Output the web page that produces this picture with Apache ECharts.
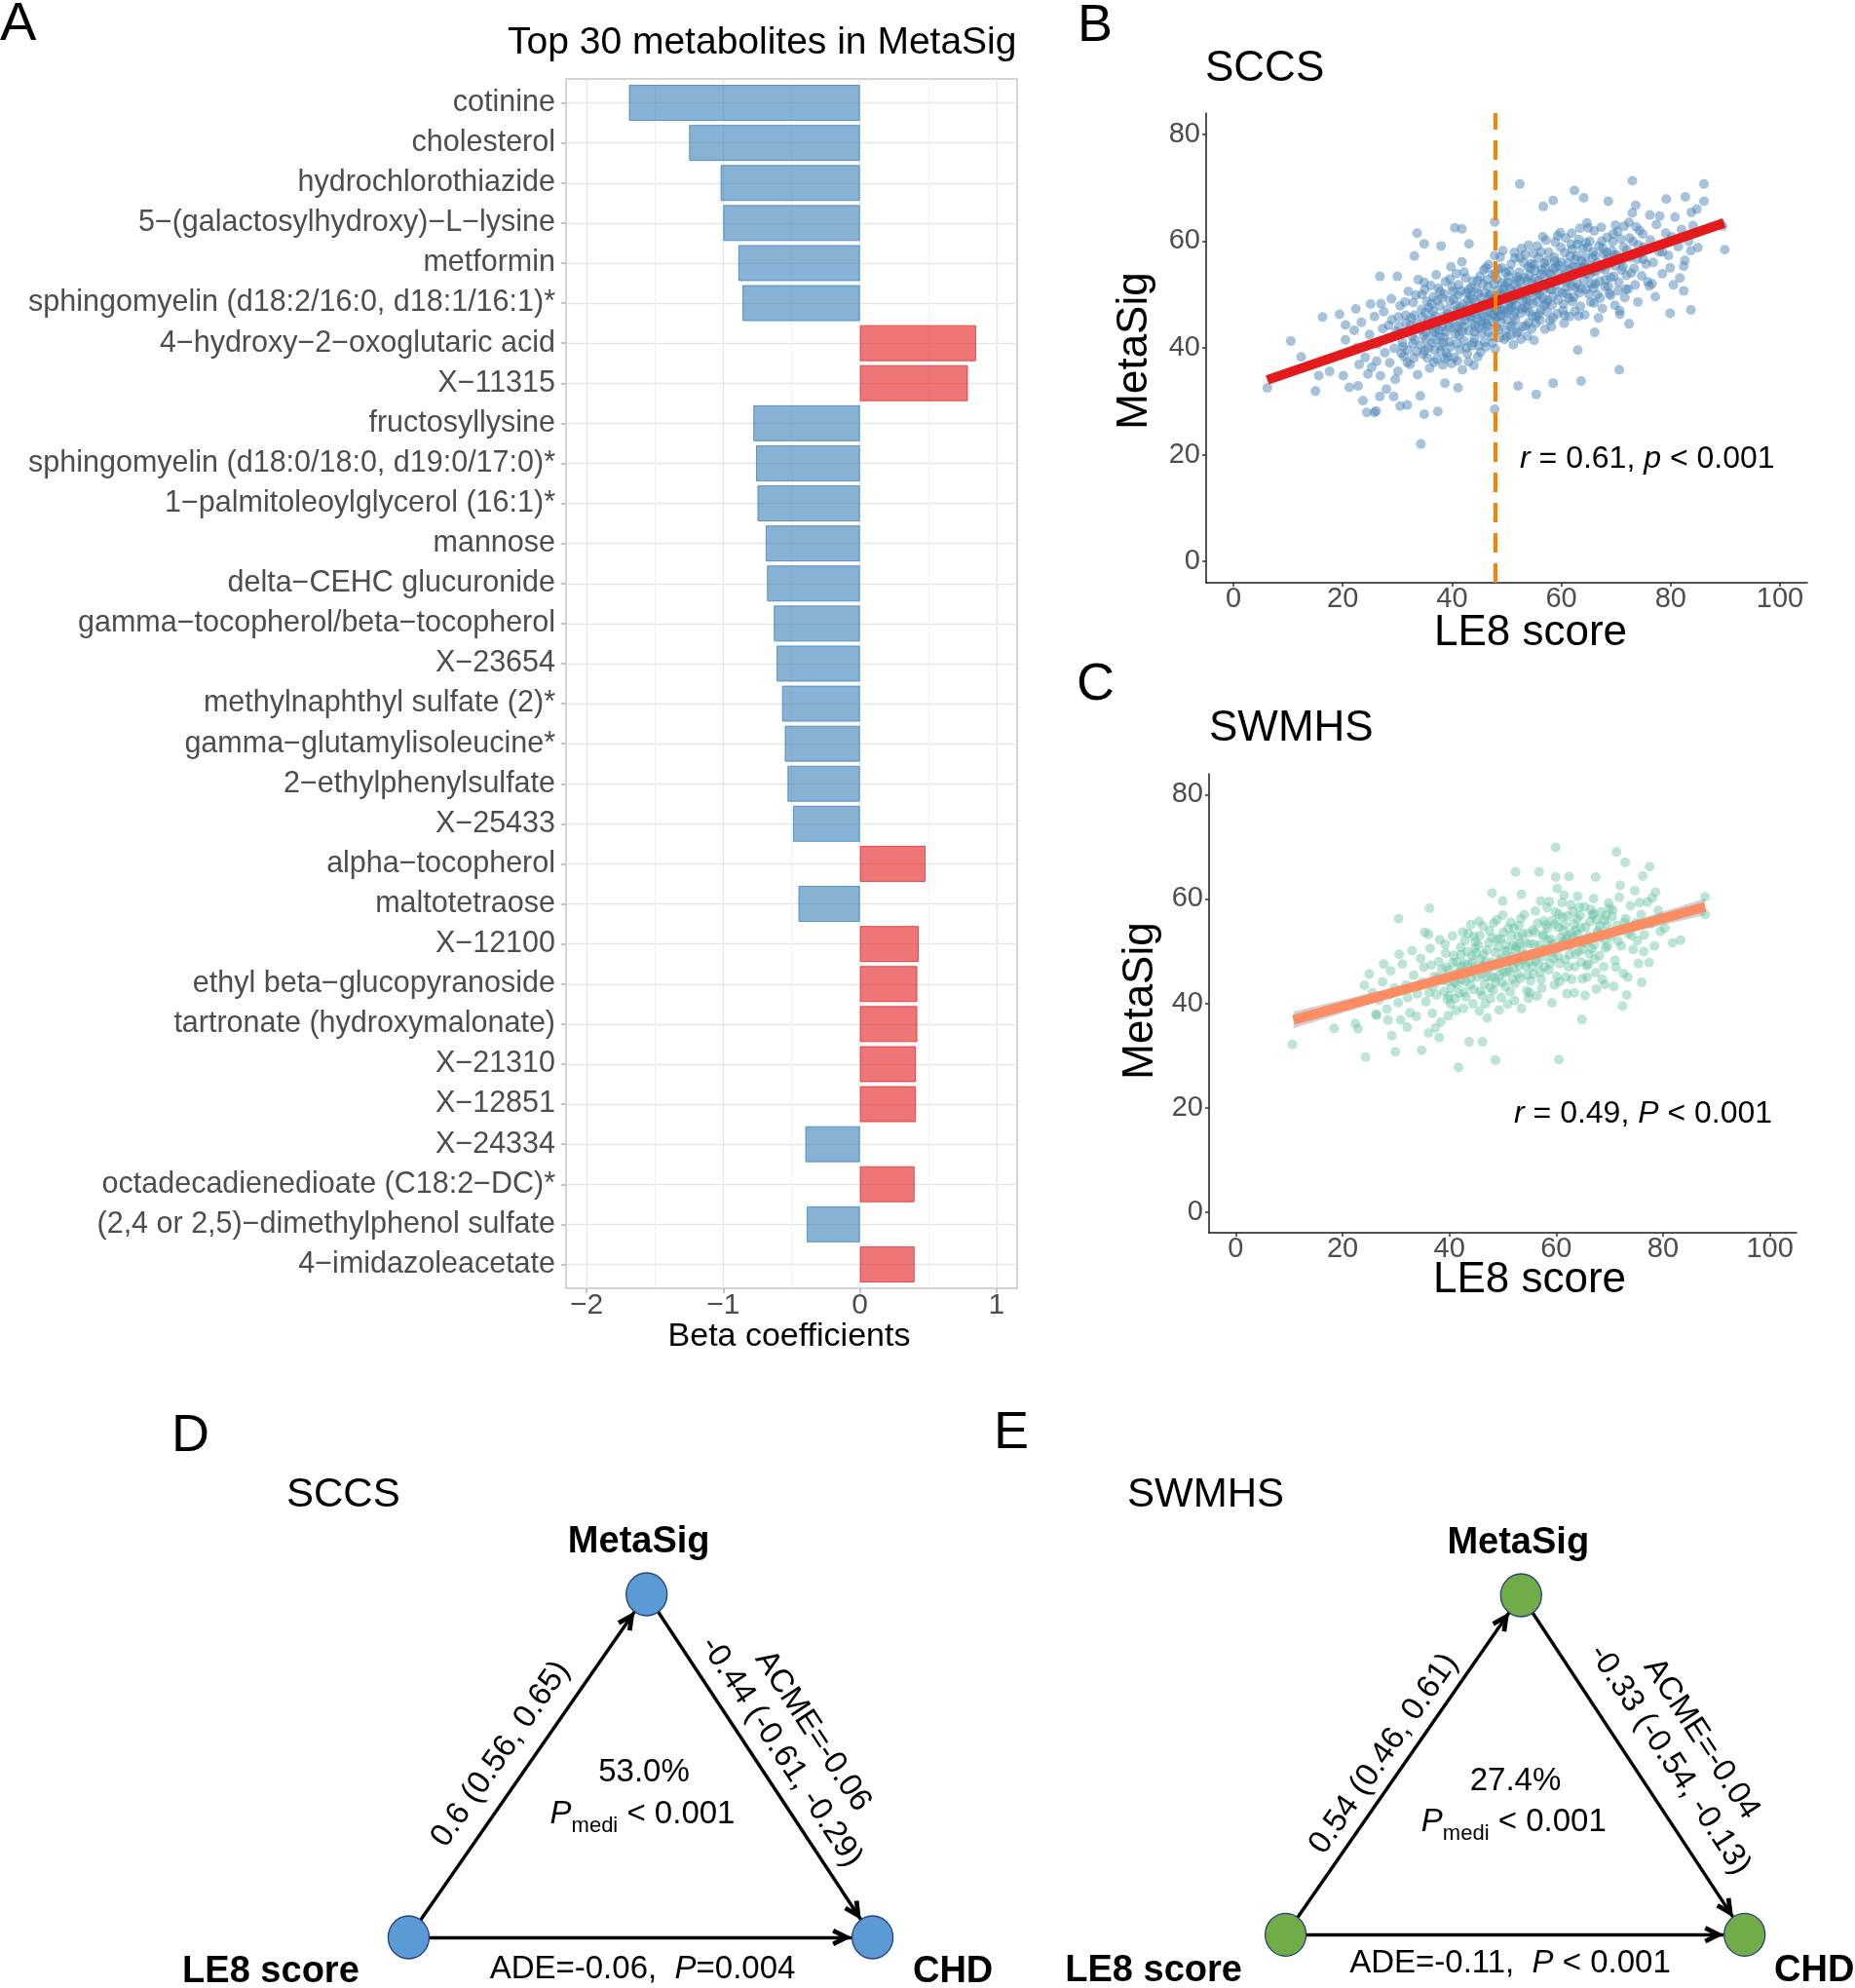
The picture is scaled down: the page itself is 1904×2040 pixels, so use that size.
<!DOCTYPE html>
<html><head><meta charset="utf-8">
<script src="https://cdn.jsdelivr.net/npm/echarts@6/dist/echarts.min.js"></script>
<style>html,body{margin:0;padding:0;background:#fff}#chart{width:1904px;height:2040px}</style>
</head><body><div id="chart"></div>
<script>
const FONT = '"Liberation Sans", Arial, Helvetica, sans-serif';
const M = '\u2212';

// ---------- Panel A ----------
const metabolites = [
  'cotinine','cholesterol','hydrochlorothiazide','5'+M+'(galactosylhydroxy)'+M+'L'+M+'lysine','metformin',
  'sphingomyelin (d18:2/16:0, d18:1/16:1)*','4'+M+'hydroxy'+M+'2'+M+'oxoglutaric acid','X'+M+'11315','fructosyllysine',
  'sphingomyelin (d18:0/18:0, d19:0/17:0)*','1'+M+'palmitoleoylglycerol (16:1)*','mannose','delta'+M+'CEHC glucuronide',
  'gamma'+M+'tocopherol/beta'+M+'tocopherol','X'+M+'23654','methylnaphthyl sulfate (2)*','gamma'+M+'glutamylisoleucine*',
  '2'+M+'ethylphenylsulfate','X'+M+'25433','alpha'+M+'tocopherol','maltotetraose','X'+M+'12100',
  'ethyl beta'+M+'glucopyranoside','tartronate (hydroxymalonate)','X'+M+'21310','X'+M+'12851','X'+M+'24334',
  'octadecadienedioate (C18:2'+M+'DC)*','(2,4 or 2,5)'+M+'dimethylphenol sulfate','4'+M+'imidazoleacetate'
];
const betaValues = [-1.69,-1.25,-1.02,-1.00,-0.89,-0.86,0.85,0.79,-0.78,-0.76,-0.75,-0.69,-0.68,-0.63,-0.61,
  -0.57,-0.55,-0.53,-0.49,0.48,-0.45,0.43,0.42,0.42,0.41,0.41,-0.40,0.40,-0.39,0.40];
const betaTicks = [-2,-1,0,1];
const betaGridMajor = [-2,-1,0,1];
const betaGridMinor = [-1.5,-0.5,0.5];

// ---------- Panel B (SCCS) ----------
const sccsPoints = [
 [6.2,32.5],[10.5,41.3],[12.4,38.3],[15.0,31.9],[15.6,34.8],[16.3,45.8],[17.6,35.6],[19.4,46.3],[20.5,44.3],[20.5,41.5],[20.1,34.8],[21.2,32.6],[22.4,47.3],[22.8,32.9],[23.7,30.1],[24.4,27.9],[25.8,27.9],[26.1,28.2],[26.8,53.4],[27.0,48.3],[26.8,30.9],[28.0,32.3],[29.3,30.9],[30.0,53.4],[30.5,29.1],[31.8,29.3],[33.1,57.2],[33.6,61.5],[34.2,31.0],[34.3,22.0],[34.9,27.6],[34.9,59.5],[37.4,28.1],[38.0,59.1],[38.7,33.4],[40.5,62.5],[41.1,32.5],[41.8,62.3],[43.1,59.5],[47.8,28.5],[47.8,63.6],[52.4,70.7],[52.1,32.9],[55.4,31.3],[56.7,66.5],[58.5,67.6],[58.5,33.4],[62.4,69.5],[63.0,39.6],[63.6,33.8],[64.1,68.1],[66.1,42.9],[68.6,67.5],[70.6,35.9],[73.0,71.3],[73.6,66.7],[76.2,64.9],[79.2,67.9],[79.9,46.5],[82.7,68.3],[82.4,50.7],[83.7,47.1],[83.7,58.2],[82.4,55.3],[84.8,66.0],[86.1,70.7],[86.1,67.5],[89.9,58.4],[89.5,62.8],[78.5,58.0],[76.1,51.6],[72.4,44.5],[70.7,46.3],
 [22.6,40.1],[23.4,44.8],[24.1,38.2],[24.9,42.5],[25.3,36.4],[25.8,45.9],[26.4,40.7],[26.9,34.8],[27.3,43.6],[27.7,39.1],[23.0,36.9],[25.1,48.2],[26.2,37.5],[27.5,46.8],[22.1,43.3],[24.6,35.1],
 [28.2,41.8],[28.6,37.2],[29.0,45.3],[29.4,39.9],[29.8,43.1],[30.1,35.6],[30.5,47.9],[30.9,41.0],[31.2,38.4],[31.6,44.7],[32.0,50.6],[32.3,36.9],[32.7,42.2],[33.1,46.1],[33.5,39.3],[33.8,52.8],[28.9,49.2],[29.6,34.1],[30.3,44.0],[31.0,40.2],[31.8,37.3],[32.5,45.6],[33.2,41.5],[33.7,35.0],[28.4,44.2],[30.7,39.0],[32.9,48.5],
 [34.1,43.4],[34.4,47.2],[34.7,38.8],[35.0,50.9],[35.3,41.7],[35.6,45.0],[35.9,36.2],[36.2,48.3],[36.5,42.9],[36.8,39.6],[37.1,53.7],[37.4,44.5],[37.7,47.8],[38.0,40.3],[38.3,36.8],[38.6,50.1],[38.9,43.0],[39.2,46.4],[39.5,41.2],[39.8,55.2],[34.3,40.5],[34.9,52.3],[35.5,38.1],[36.0,44.2],[36.6,49.6],[37.2,37.9],[37.8,42.1],[38.4,45.9],[39.0,39.0],[39.6,48.8],[34.6,45.7],[35.2,43.0],[36.3,40.9],[36.9,46.0],[37.5,51.2],[38.1,44.0],[38.7,38.0],[39.3,43.8],[39.9,37.1],[35.8,47.5],[37.0,41.5],[38.8,52.4],
 [40.1,45.3],[40.3,49.1],[40.6,42.6],[40.9,47.0],[41.2,51.8],[41.4,39.7],[41.7,44.8],[42.0,48.2],[42.2,41.3],[42.5,53.1],[42.8,46.0],[43.1,43.2],[43.3,49.7],[43.6,40.4],[43.9,47.4],[44.2,44.1],[44.4,51.0],[44.7,38.3],[45.0,46.9],[45.3,49.4],[45.5,42.7],[45.8,54.6],[40.4,38.2],[40.8,53.9],[41.0,44.0],[41.5,47.6],[41.9,35.9],[42.3,45.2],[42.7,50.3],[43.0,37.4],[43.4,45.8],[43.8,52.5],[44.1,41.8],[44.5,48.5],[44.9,43.6],[45.2,39.2],[45.7,47.7],[40.2,50.6],[40.7,46.1],[41.3,42.4],[41.8,56.1],[42.1,43.9],[42.6,40.0],[43.2,47.9],[43.7,44.6],[44.3,46.3],[44.8,50.2],[45.4,45.1],[45.9,41.1],[41.1,49.9],[42.9,48.9],[44.0,36.7],[45.6,52.0],
 [46.1,48.4],[46.3,44.5],[46.6,51.5],[46.9,46.7],[47.2,42.1],[47.4,53.8],[47.7,49.2],[48.0,45.6],[48.3,50.8],[48.5,43.4],[48.8,47.3],[49.1,55.0],[49.4,49.9],[49.6,41.6],[49.9,46.5],[50.2,52.3],[50.4,48.1],[50.7,44.0],[51.0,50.5],[51.3,46.0],[51.5,56.8],[51.8,42.8],[46.2,40.2],[46.7,55.6],[47.0,50.0],[47.5,46.2],[47.9,39.8],[48.2,52.9],[48.6,48.0],[49.0,44.8],[49.3,58.2],[49.7,51.7],[50.0,45.3],[50.5,54.4],[50.9,47.6],[51.2,40.6],[51.6,49.4],[51.9,53.3],[46.4,46.0],[46.8,49.8],[47.3,44.9],[47.8,57.3],[48.4,45.9],[48.9,50.2],[49.5,47.0],[50.1,49.5],[50.6,51.1],[51.1,44.3],[51.7,47.9],[46.5,52.8],[47.6,48.1],[48.7,41.9],[49.8,54.1],[50.8,42.4],[51.4,51.9],
 [52.1,49.8],[52.3,54.2],[52.6,46.5],[52.9,51.3],[53.2,47.6],[53.4,57.5],[53.7,52.6],[54.0,44.7],[54.3,50.4],[54.5,55.8],[54.8,48.3],[55.1,53.0],[55.4,45.8],[55.6,59.1],[55.9,51.2],[56.2,47.1],[56.4,54.7],[56.7,49.3],[57.0,43.5],[57.3,56.3],[57.6,52.0],[52.2,43.0],[52.7,58.6],[53.0,50.0],[53.5,44.1],[53.9,55.1],[54.2,48.9],[54.6,52.1],[55.0,41.4],[55.3,50.7],[55.8,56.9],[56.1,45.2],[56.5,51.8],[56.9,47.9],[57.2,60.2],[57.5,49.0],[57.8,54.0],[52.5,52.7],[53.1,56.0],[53.6,49.1],[54.1,53.6],[54.7,46.0],[55.2,54.5],[55.7,48.7],[56.3,58.0],[56.8,53.3],[57.4,46.7],[57.9,51.0],[52.8,47.3],[53.8,42.2],[54.9,57.7],[56.0,50.0],[57.1,55.0],
 [58.1,53.8],[58.4,49.6],[58.7,57.0],[59.0,51.9],[59.2,46.4],[59.5,55.5],[59.8,61.6],[60.1,53.0],[60.4,48.2],[60.6,57.8],[60.9,51.4],[61.2,55.9],[61.5,45.9],[61.8,59.4],[62.1,53.5],[62.3,49.5],[62.6,56.6],[62.9,52.0],[63.2,60.3],[63.5,47.8],[63.8,55.0],[58.2,44.0],[58.9,59.8],[59.4,49.0],[60.0,56.0],[60.5,44.6],[61.0,50.1],[61.6,53.1],[62.0,58.5],[62.5,46.9],[63.0,54.2],[63.6,51.1],[58.6,54.9],[59.7,52.7],[60.8,60.6],[61.9,51.6],[62.8,57.2],[63.9,58.6],[58.3,48.0],[60.2,50.3],[62.2,55.2],[63.4,62.4],
 [64.2,55.7],[64.5,51.0],[64.8,58.8],[65.1,53.6],[65.4,48.6],[65.7,56.9],[66.0,61.9],[66.3,54.3],[66.6,50.0],[66.9,59.1],[67.2,55.0],[67.5,47.4],[67.8,57.6],[68.1,52.8],[68.4,60.7],[68.7,55.6],[69.0,49.8],[69.3,58.2],[69.6,53.4],[69.9,63.0],[64.3,46.2],[64.9,62.5],[65.5,52.0],[66.2,57.3],[66.8,45.6],[67.4,60.0],[68.0,54.6],[68.6,51.5],[69.2,56.0],[69.8,48.0],[64.6,53.9],[65.9,51.2],[67.0,52.5],[68.3,57.9],[69.5,61.3],
 [70.2,57.4],[70.5,52.3],[70.9,60.4],[71.3,55.2],[71.6,49.4],[72.0,58.3],[72.4,63.5],[72.8,54.0],[73.1,59.9],[73.5,51.8],[73.9,56.6],[74.3,62.0],[74.7,53.5],[75.1,58.9],[75.5,55.7],[70.7,47.0],[71.5,62.8],[72.2,51.0],[73.0,65.3],[74.0,48.6],[74.9,61.3],[75.8,52.4],[71.0,54.6],[72.6,56.9],[74.5,57.7],
 [76.3,60.2],[76.8,56.0],[77.4,63.1],[77.9,58.0],[78.5,53.9],[79.1,61.5],[79.6,57.3],[80.2,60.8],[80.8,64.5],[81.4,59.0],[82.0,62.2],[82.6,56.4],[83.3,60.0],[84.1,62.9],[85.0,58.8],[76.6,52.0],[78.0,64.7],[79.9,55.0],[81.7,53.1],[83.8,65.4],[77.2,49.6],[80.5,51.8],
 [30.2,45.8],[30.8,42.7],[31.4,48.6],[31.9,39.6],[32.4,44.3],[32.8,40.8],[33.4,49.9],[33.9,43.9],[34.5,50.0],[34.8,42.3],[35.1,46.6],[35.7,40.0],[36.1,51.7],[36.4,45.4],[36.7,37.3],[37.3,48.9],[37.6,43.3],[37.9,39.4],[38.2,49.4],[38.5,42.0],[39.1,47.2],[39.4,44.6],[39.7,40.2],[40.0,51.4],[40.5,43.7],[40.9,40.8],[41.4,46.3],[41.6,50.7],[42.4,47.1],[42.8,38.9],[43.5,51.3],[43.9,41.0],[44.6,45.4],[45.1,53.4],[45.6,44.4],[46.0,50.3],[46.6,42.9],[47.1,47.6],[47.7,51.9],[48.1,43.8],[48.5,54.8],[48.9,46.1],[49.2,52.2],[49.8,43.3],[50.3,47.1],[50.8,55.7],[51.2,49.0],[51.6,45.2],[52.0,51.0],[52.4,56.9],[52.9,44.0],[53.3,53.1],[53.7,47.4],[54.1,50.9],[54.6,43.6],[55.0,55.6],[55.5,49.9],[55.9,46.3],[56.3,53.8],[56.8,50.9],[57.3,48.4],[57.7,57.9],[58.0,52.4],[58.5,45.6],[59.0,55.2],[59.5,50.5],[59.9,58.8],[60.3,47.0],[60.7,54.4],[61.1,52.3],[61.6,57.2],[62.0,48.7],[62.4,54.0],[62.9,59.4],[63.3,50.3],[63.7,56.3],[64.1,52.7],[64.5,59.7],[65.0,50.1],[65.4,55.4],[65.8,58.0],[66.2,52.0],[66.6,55.9],[67.1,49.3],[67.6,58.6],[68.0,51.4],[68.5,56.8],[69.0,53.2],[69.4,59.9],[69.9,55.4],[70.4,50.7],[70.9,56.3],[71.4,58.9],[71.9,53.6],[72.5,60.6],[73.3,54.9],[74.1,59.3],[75.0,56.6],
 [33.0,38.1],[35.4,48.7],[36.9,43.0],[38.4,40.9],[39.6,52.9],[41.0,37.6],[42.2,54.2],[43.7,49.2],[44.9,40.4],[46.2,55.0],[47.4,40.9],[48.8,57.0],[50.0,42.1],[51.4,57.9],[52.6,41.6],[54.0,59.2],[55.3,44.6],[56.6,60.8],[57.9,45.1],[59.3,61.0],[60.6,46.1],[61.9,61.5],[63.2,46.0],[64.7,63.4],[66.0,48.4],[67.3,62.6],[68.8,50.2],[70.3,61.8],[71.8,51.0],[73.7,62.7],
 [31.5,46.1],[33.6,44.5],[35.0,39.5],[36.5,46.9],[37.8,50.6],[39.2,38.4],[40.6,48.0],[41.9,43.0],[43.3,46.6],[44.7,52.6],[45.8,46.0],[47.2,49.0],[48.2,47.1],[49.4,51.0],[50.6,48.6],[51.8,52.7],[53.0,48.8],[54.4,54.9],[55.7,52.5],[57.0,51.6],[58.8,56.3],[60.0,52.8],[61.4,49.3],[62.7,55.1],[64.4,57.0],[65.9,54.4],[67.7,55.3],[69.7,57.4],
 [43.0,50.9],[44.1,43.0],[45.3,47.9],[46.5,44.1],[47.9,53.9],[49.0,49.1],[50.3,53.4],[51.5,46.8],[52.7,50.0],[54.2,46.7],[55.6,51.0],[56.9,55.9],[58.2,50.9],[59.6,53.9],[61.2,54.7],[62.6,51.3],[64.0,55.0],[65.2,60.0]
];
const sccsFitX = [6.2, 89.8];
const sccsFitY = [34.0, 63.4];
const sccsCutoff = 47.9;

// ---------- Panel C (SWMHS) ----------
const swmhsPoints = [
 [10.6,32.1],[18.4,35.2],[22.4,36.1],[22.9,35.1],[24.3,29.7],[25.0,45.6],[24.1,43.4],[26.4,37.7],[27.7,47.5],[28.5,36.8],[29.2,33.8],[29.9,30.7],[30.5,56.2],[30.6,49.4],[32.1,35.4],[34.8,31.0],[36.1,34.3],[36.3,58.2],[36.1,53.2],[38.1,33.4],[41.7,27.7],[43.7,32.6],[46.2,32.6],[48.6,29.1],[48.0,61.1],[50.0,59.6],[52.4,65.2],[53.5,60.9],[56.8,65.2],[59.9,69.9],[59.9,64.2],[60.5,29.2],[62.4,64.3],[67.4,64.2],[64.8,36.9],[71.3,69.0],[72.9,67.0],[72.4,39.5],[76.2,64.4],[77.5,66.2],[78.6,61.3],[77.4,47.8],[76.4,49.9],[81.8,51.6],[83.3,52.1],[87.9,60.4],[87.9,57.0],[80.3,54.4],[73.4,45.0],
 [25.6,42.0],[26.8,40.6],[27.5,44.1],[28.3,38.9],[29.0,46.2],[29.7,42.9],[30.4,40.1],[31.2,47.5],[31.9,43.5],[32.6,38.2],[33.3,45.4],[34.0,41.8],[34.6,48.6],[30.9,36.8],[32.2,41.1],[33.8,37.5],[28.8,41.7],[34.9,44.0],[26.2,37.9],[33.0,50.1],
 [35.2,46.9],[35.6,40.3],[36.0,43.8],[36.4,50.5],[36.8,38.1],[37.2,45.2],[37.6,41.6],[38.0,48.0],[38.4,36.4],[38.8,44.4],[39.2,51.3],[39.6,40.8],[40.0,46.3],[40.4,43.0],[40.8,49.2],[41.2,38.6],[41.6,45.7],[35.4,53.6],[36.6,47.3],[37.4,35.3],[38.2,52.2],[39.0,42.3],[39.8,37.6],[40.6,52.9],[41.4,47.9],[41.8,41.9],[36.2,42.0],[37.9,44.9],[39.4,46.9],[40.2,39.9],[41.0,44.0],
 [42.1,50.7],[42.4,44.6],[42.8,47.6],[43.1,41.2],[43.5,53.4],[43.8,46.1],[44.2,49.0],[44.5,42.6],[44.9,51.8],[45.2,45.0],[45.6,38.5],[45.9,48.4],[46.3,54.8],[46.6,43.7],[47.0,50.2],[47.3,46.6],[47.7,40.9],[48.0,52.5],[48.4,47.3],[48.7,44.0],[42.6,39.0],[43.3,49.9],[44.0,55.1],[44.7,47.0],[45.4,51.2],[46.1,41.5],[46.8,47.9],[47.5,53.9],[48.2,42.5],[48.9,56.0],[42.9,52.0],[43.9,43.5],[45.0,49.6],[46.0,45.6],[47.1,37.2],[48.6,49.7],[44.4,39.9],[47.8,45.1],[45.7,53.0],[42.3,47.0],
 [49.1,50.8],[49.4,45.4],[49.8,48.6],[50.1,53.6],[50.5,43.2],[50.8,49.9],[51.2,46.3],[51.5,55.5],[51.9,51.1],[52.2,40.5],[52.6,48.0],[52.9,52.8],[53.3,44.8],[53.6,50.0],[54.0,57.0],[54.3,47.1],[54.7,53.4],[55.0,42.0],[55.4,49.5],[55.7,45.6],[49.3,38.7],[50.0,56.9],[50.7,46.0],[51.4,42.2],[52.1,54.4],[52.8,45.5],[53.5,39.0],[54.2,51.6],[54.9,47.9],[55.6,54.0],[49.6,52.4],[50.9,39.8],[52.4,50.3],[53.8,48.3],[55.2,44.3],[49.9,44.0],[51.7,48.9],[53.0,54.9],[54.5,42.4],[55.9,51.3],
 [56.2,48.2],[56.5,55.3],[56.9,51.1],[57.2,44.6],[57.6,53.2],[57.9,49.0],[58.3,58.3],[58.6,46.4],[59.0,52.3],[59.3,55.9],[59.7,43.5],[60.0,50.5],[60.4,54.6],[60.7,47.6],[61.1,59.3],[61.4,51.8],[61.8,45.0],[62.1,56.7],[62.5,49.3],[62.8,53.5],[56.4,41.4],[57.1,59.6],[57.8,46.9],[58.5,52.0],[59.2,40.1],[59.9,57.5],[60.6,44.1],[61.3,53.9],[62.0,41.8],[62.7,58.9],[56.7,47.7],[58.1,55.0],[59.5,48.6],[60.9,50.9],[62.3,47.0],[57.4,50.2],[60.2,62.0],[61.6,55.0],
 [63.2,52.6],[63.5,47.0],[63.9,56.2],[64.2,49.9],[64.6,54.5],[64.9,44.7],[65.3,58.5],[65.6,51.6],[66.0,47.5],[66.3,55.7],[66.7,50.4],[67.0,60.1],[67.4,45.9],[67.7,53.5],[68.1,49.1],[68.4,57.5],[68.8,52.3],[69.1,43.6],[69.5,55.0],[69.8,59.2],[63.4,42.0],[64.0,60.5],[64.7,47.9],[65.4,41.5],[66.1,52.9],[66.8,56.9],[67.5,42.7],[68.2,54.8],[68.9,47.0],[69.6,51.0],[63.7,54.0],[65.8,45.0],[67.2,48.5],[69.3,56.8],
 [70.2,52.7],[70.6,57.9],[71.0,48.2],[71.4,54.9],[71.8,60.3],[72.2,51.0],[72.6,45.7],[73.0,56.2],[73.5,53.3],[73.9,58.7],[74.4,50.3],[74.9,55.4],[75.4,47.6],[75.9,57.0],[76.5,53.1],[77.1,59.4],[77.7,55.3],[78.4,51.0],[79.1,57.8],[70.8,43.2],[72.0,62.6],[73.2,41.6],[74.7,61.6],[76.0,44.0],[78.0,60.2],[79.5,53.8],[71.6,51.9],[75.2,52.0],
 [37.0,43.2],[38.6,46.5],[39.9,41.4],[40.7,47.8],[41.5,43.6],[42.2,49.3],[42.7,42.1],[43.4,47.4],[44.1,44.9],[44.8,50.6],[45.3,46.4],[45.8,42.3],[46.4,49.4],[46.9,45.1],[47.4,51.6],[47.9,47.9],[48.5,44.9],[49.0,52.3],[49.5,48.3],[50.2,45.9],[50.6,51.3],[51.1,48.1],[51.6,52.9],[52.0,46.8],[52.5,50.9],[53.1,47.2],[53.7,53.3],[54.1,49.3],[54.6,45.4],[55.1,51.4],[55.5,47.0],[56.0,53.6],[56.6,49.5],[57.0,46.0],[57.5,52.8],[58.0,50.4],[58.4,54.4],[58.9,47.6],[59.4,51.3],[59.8,55.2],[60.3,49.1],[60.8,52.5],[61.2,56.5],[61.7,48.4],[62.2,53.0],[62.6,51.0],[63.1,57.6],[63.6,49.4],[64.1,53.2],[64.5,56.8],[65.0,50.3],[65.5,54.6],[66.0,52.0],[66.5,58.0],[67.1,51.2],[67.6,56.0],[68.3,52.7],[69.0,55.9],[69.7,53.1],[70.5,56.6],
 [39.3,49.6],[41.1,40.9],[42.5,53.7],[44.3,47.9],[45.5,55.7],[46.7,39.9],[48.3,55.4],[49.7,41.1],[51.0,54.4],[52.3,43.8],[53.4,56.2],[54.8,41.0],[56.1,57.7],[57.3,42.9],[58.7,59.5],[60.1,45.2],[61.5,60.7],[62.9,44.6],[64.3,58.4],[65.7,47.2],[67.0,57.2],[68.6,44.6],[70.0,58.2],[71.2,46.9],
 [43.0,44.2],[44.6,52.8],[46.2,47.2],[47.6,43.0],[49.2,47.0],[50.4,50.0],[51.8,44.6],[53.2,51.5],[54.4,48.9],[55.8,49.2],[57.7,55.8],[59.1,49.8],[60.5,57.0],[61.9,52.4],[63.3,55.2],[64.8,51.6],[66.2,49.5],[67.8,53.9],[69.2,50.6],[72.8,55.5],[74.1,53.0],[75.6,59.3],[39.7,44.2],[41.9,46.1]
];
const swmhsFitX = [10.8, 87.9];
const swmhsFitY = [36.8, 58.5];
const swmhsCiX = [10.8, 30, 50, 70, 87.9];
const swmhsCiLow = [35.2, 41.3, 47.3, 52.6, 56.9];
const swmhsCiHigh = [38.4, 43.1, 48.3, 54.4, 60.1];
const le8Ticks = [0, 20, 40, 60, 80, 100];
const metaSigTicks = [0, 20, 40, 60, 80];

// ---------- Panels D/E (mediation) ----------
const medNodes = ['LE8 score', 'MetaSig', 'CHD'];
const medNodeX = [0, 0.513, 1];
const medNodeY = [0, 1, 0];
const medLinks = [['LE8 score', 'MetaSig'], ['MetaSig', 'CHD'], ['LE8 score', 'CHD']];
const sccsMed = { pathA: '0.6 (0.56, 0.65)', acme: 'ACME=-0.06', pathB: '-0.44 (-0.61, -0.29)', ade: 'ADE=-0.06,  ', adeP: '=0.004', prop: '53.0%', pmedi: ' < 0.001' };
const swmhsMed = { pathA: '0.54 (0.46, 0.61)', acme: 'ACME=-0.04', pathB: '-0.33 (-0.54, -0.13)', ade: 'ADE=-0.11,  ', adeP: ' < 0.001', prop: '27.4%', pmedi: ' < 0.001' };

// ---------- helpers ----------
// open chevron arrowhead; invisible slivers make the bounding box square and centred on the tip
const CHEVRON = 'path://M8,-17.8L8.01,-17.8L8,-17.79Z M-9.8,0L-9.79,0L-9.8,0.01Z M25.8,0L25.79,0L25.8,0.01Z ' +
  'M8,0L16,16L12.2,17.9L8,9.5L3.8,17.9L0,16Z';
function T(text, x, y, size, o) {
  o = o || {};
  const st = { text: text, fontSize: size, fontFamily: FONT, fontWeight: o.bold ? 'bold' : 'normal',
    fontStyle: o.italic ? 'italic' : 'normal', fill: o.color || '#000', align: o.align || 'left', verticalAlign: 'middle' };
  if (o.lh) st.lineHeight = o.lh;
  if (o.rich) st.rich = o.rich;
  return { type: 'text', x: x, y: y, rotation: o.rot || 0, silent: true, z: 100, style: st };
}
function richBase(size) {
  return {
    n: { fontSize: size, fontFamily: FONT, color: '#000' },
    i: { fontSize: size, fontFamily: FONT, fontStyle: 'italic', color: '#000' }
  };
}
function pmediRich() {
  return {
    i: { fontSize: 33, fontFamily: FONT, fontStyle: 'italic', verticalAlign: 'top', lineHeight: 33, color: '#000' },
    s: { fontSize: 22, fontFamily: FONT, verticalAlign: 'top', lineHeight: 22, padding: [17, 0, 0, 0], color: '#000' },
    n: { fontSize: 33, fontFamily: FONT, verticalAlign: 'top', lineHeight: 33, color: '#000' }
  };
}
function valAxisXY(grid, min, max, ticks, isX) {
  return {
    gridIndex: grid, type: 'value', min: min, max: max,
    axisLine: { show: true, onZero: false, lineStyle: { color: '#1a1a1a', width: 1.5 } },
    axisTick: { show: true, customValues: ticks, length: 4, lineStyle: { color: '#333', width: 1.5 } },
    axisLabel: { customValues: ticks, fontSize: 29, color: '#4d4d4d', fontFamily: FONT, margin: isX ? 2 : 6 },
    splitLine: { show: false }
  };
}
function medGraph(grid, color, metaOff, lePos, chdPos) {
  return {
    type: 'graph', layout: 'none', coordinateSystem: 'cartesian2d', xAxisIndex: grid, yAxisIndex: grid,
    symbol: 'circle', symbolSize: [42, 44], silent: true, roam: false,
    itemStyle: { color: color, borderColor: '#24407a', borderWidth: 1.3, opacity: 1 },
    edgeSymbol: ['none', CHEVRON], edgeSymbolSize: 40,
    lineStyle: { color: '#000', width: 3.4, opacity: 1, curveness: 0 },
    emphasis: { disabled: true },
    label: { show: true, color: '#000', fontSize: 38, fontWeight: 'bold', fontFamily: FONT, formatter: '{b}' },
    data: medNodes.map(function (n, i) {
      let lab;
      if (n === 'MetaSig') lab = { position: 'top', distance: 12, offset: [metaOff, 0] };
      else if (n === 'LE8 score') lab = { position: lePos, align: 'right', verticalAlign: 'middle' };
      else lab = { position: chdPos, align: 'left', verticalAlign: 'middle' };
      return { name: n, value: [medNodeX[i], medNodeY[i]], label: lab };
    }),
    links: medLinks.map(function (l) { return { source: l[0], target: l[1] }; })
  };
}

const blueBar = 'rgba(55,126,184,0.6)', redBar = 'rgba(228,26,28,0.6)';

const option = {
  animation: false,
  backgroundColor: '#ffffff',
  textStyle: { fontFamily: FONT },
  grid: [
    { left: 581, top: 85, width: 463, height: 1233 },
    { left: 581, top: 81, width: 463, height: 1241, show: true, borderColor: '#c6c6c6', borderWidth: 1.5, backgroundColor: 'transparent' },
    { left: 1238, top: 116, width: 617, height: 482 },
    { left: 1241, top: 794, width: 603, height: 471 },
    { left: 419.4, top: 1636, width: 476.2, height: 352 },
    { left: 1319.6, top: 1637, width: 471.1, height: 348.3 }
  ],
  xAxis: [
    { gridIndex: 0, type: 'value', min: -2.15, max: 1.15, show: false },
    { gridIndex: 1, type: 'value', min: -2.15, max: 1.15,
      axisLine: { show: false, onZero: false },
      axisTick: { show: true, customValues: betaTicks, length: 5, lineStyle: { color: '#b3b3b3', width: 1.5 } },
      axisLabel: { customValues: betaTicks, fontSize: 30, color: '#4d4d4d', fontFamily: FONT, margin: 3,
        formatter: function (v) { return v < 0 ? M + Math.abs(v) : String(v); } },
      splitLine: { show: false } },
    valAxisXY(2, -5, 105, le8Ticks, true),
    valAxisXY(3, -5, 105, le8Ticks, true),
    { gridIndex: 4, type: 'value', min: 0, max: 1, show: false },
    { gridIndex: 5, type: 'value', min: 0, max: 1, show: false }
  ],
  yAxis: [
    { gridIndex: 0, type: 'category', data: metabolites, inverse: true,
      axisLine: { show: false, onZero: false },
      axisTick: { show: true, alignWithLabel: true, length: 5, lineStyle: { color: '#b3b3b3', width: 1.5 } },
      axisLabel: { interval: 0, fontSize: 30.5, color: '#4d4d4d', fontFamily: FONT, margin: 11 },
      splitLine: { show: false } },
    { gridIndex: 1, type: 'value', min: 0, max: 1, show: false },
    valAxisXY(2, -4, 84, metaSigTicks, false),
    valAxisXY(3, -4, 84, metaSigTicks, false),
    { gridIndex: 4, type: 'value', min: 0, max: 1, show: false },
    { gridIndex: 5, type: 'value', min: 0, max: 1, show: false }
  ],
  series: [
    { type: 'bar', xAxisIndex: 0, yAxisIndex: 0, barWidth: '90%', z: 2, silent: true,
      data: betaValues.map(function (v) {
        return { value: v, itemStyle: { color: v < 0 ? blueBar : redBar, borderColor: v < 0 ? 'rgba(55,126,184,0.75)' : 'rgba(228,26,28,0.7)', borderWidth: 1 } };
      }),
      markLine: { silent: true, symbol: 'none', z: 1, label: { show: false },
        lineStyle: { color: '#e6e6e6', width: 1.4, type: 'solid' },
        data: metabolites.map(function (m) { return { yAxis: m }; }) } },
    { type: 'scatter', xAxisIndex: 1, yAxisIndex: 1, data: [], silent: true,
      markLine: { silent: true, symbol: 'none', z: 1, label: { show: false },
        data: betaGridMajor.map(function (v) { return { xAxis: v, lineStyle: { color: '#e6e6e6', width: 1.4, type: 'solid' } }; })
          .concat(betaGridMinor.map(function (v) { return { xAxis: v, lineStyle: { color: '#f1f1f1', width: 1, type: 'solid' } }; })) } },

    { type: 'scatter', xAxisIndex: 2, yAxisIndex: 2, data: sccsPoints, symbolSize: 10, silent: true, z: 2,
      itemStyle: { color: 'rgba(70,130,180,0.6)' },
      markLine: { silent: true, symbol: 'none', z: 6, label: { show: false },
        lineStyle: { color: '#FF7F00', width: 4, type: [20, 11] },
        data: [{ xAxis: sccsCutoff }] } },
    { type: 'line', xAxisIndex: 2, yAxisIndex: 2, z: 3, silent: true, symbol: 'none',
      data: sccsFitX.map(function (x, i) { return [x, sccsFitY[i]]; }),
      lineStyle: { color: '#E41A1C', width: 10 } },

    { type: 'scatter', xAxisIndex: 3, yAxisIndex: 3, data: swmhsPoints, symbolSize: 10, silent: true, z: 2,
      itemStyle: { color: 'rgba(102,194,165,0.55)' } },
    { type: 'custom', xAxisIndex: 3, yAxisIndex: 3, z: 3, silent: true,
      data: swmhsCiX.map(function (x, i) { return [x, swmhsCiLow[i], swmhsCiHigh[i]]; }),
      encode: { x: 0, y: [1, 2] },
      renderItem: function (params, api) {
        if (params.dataIndex !== 0) return null;
        const pts = [];
        for (let i = 0; i < swmhsCiX.length; i++) pts.push(api.coord([swmhsCiX[i], swmhsCiHigh[i]]));
        for (let i = swmhsCiX.length - 1; i >= 0; i--) pts.push(api.coord([swmhsCiX[i], swmhsCiLow[i]]));
        return { type: 'polygon', shape: { points: pts }, style: { fill: 'rgba(153,153,153,0.45)' } };
      } },
    { type: 'line', xAxisIndex: 3, yAxisIndex: 3, z: 4, silent: true, symbol: 'none',
      data: swmhsFitX.map(function (x, i) { return [x, swmhsFitY[i]]; }),
      lineStyle: { color: '#FC8D62', width: 10 } },

    medGraph(4, '#5B9BD5', -8, [-29, 58], [63, 58]),
    medGraph(5, '#70AD47', -3, [-23, 60], [52, 60])
  ],
  graphic: [
    T('A', 0, 26, 56),
    T('B', 1106, 27, 54),
    T('C', 1105, 703, 54),
    T('D', 176, 1474, 54),
    T('E', 1020, 1471, 54),
    T('Top 30 metabolites in MetaSig', 521, 44, 39),
    T('Beta coefficients', 810, 1372, 34, { align: 'center' }),

    T('SCCS', 1237, 70.5, 44),
    T('LE8 score', 1571, 649.7, 44, { align: 'center' }),
    T('MetaSig', 1164.5, 360, 44, { align: 'center', rot: Math.PI / 2 }),
    T('{i|r}{n| = 0.61, }{i|p}{n| < 0.001}', 1560, 471.5, 32, { rich: richBase(32) }),

    T('SWMHS', 1241, 748.3, 44),
    T('LE8 score', 1570, 1313.4, 44, { align: 'center' }),
    T('MetaSig', 1171, 1027, 44, { align: 'center', rot: Math.PI / 2 }),
    T('{i|r}{n| = 0.49, }{i|P}{n| < 0.001}', 1554, 1143, 32, { rich: richBase(32) }),

    T('SCCS', 294, 1534.5, 42),
    T(sccsMed.pathA, 514, 1800, 33, { align: 'center', rot: 0.9634 }),
    T(sccsMed.acme + '\n' + sccsMed.pathB, 818, 1787, 33, { align: 'center', rot: -0.9884, lh: 39 }),
    T('{n|' + sccsMed.ade + '}{i|P}{n|' + sccsMed.adeP + '}', 659.5, 2020.5, 33, { align: 'center', rich: richBase(33) }),
    T(sccsMed.prop, 661, 1819, 33, { align: 'center' }),
    T('{i|P}{s|medi}{n|' + sccsMed.pmedi + '}', 659.5, 1862, 33, { align: 'center', rich: pmediRich() }),

    T('SWMHS', 1157, 1534.5, 42),
    T(swmhsMed.pathA, 1420.4, 1799.7, 33, { align: 'center', rot: 0.9627 }),
    T(swmhsMed.acme + '\n' + swmhsMed.pathB, 1730, 1795, 33, { align: 'center', rot: -0.9898, lh: 39 }),
    T('{n|' + swmhsMed.ade + '}{i|P}{n|' + swmhsMed.adeP + '}', 1550, 2015, 33, { align: 'center', rich: richBase(33) }),
    T(swmhsMed.prop, 1555.5, 1827.5, 33, { align: 'center' }),
    T('{i|P}{s|medi}{n|' + swmhsMed.pmedi + '}', 1553.8, 1870, 33, { align: 'center', rich: pmediRich() })
  ]
};

const chart = echarts.init(document.getElementById('chart'), null, { renderer: 'canvas', width: 1904, height: 2040 });
chart.setOption(option);
</script>
</body></html>
